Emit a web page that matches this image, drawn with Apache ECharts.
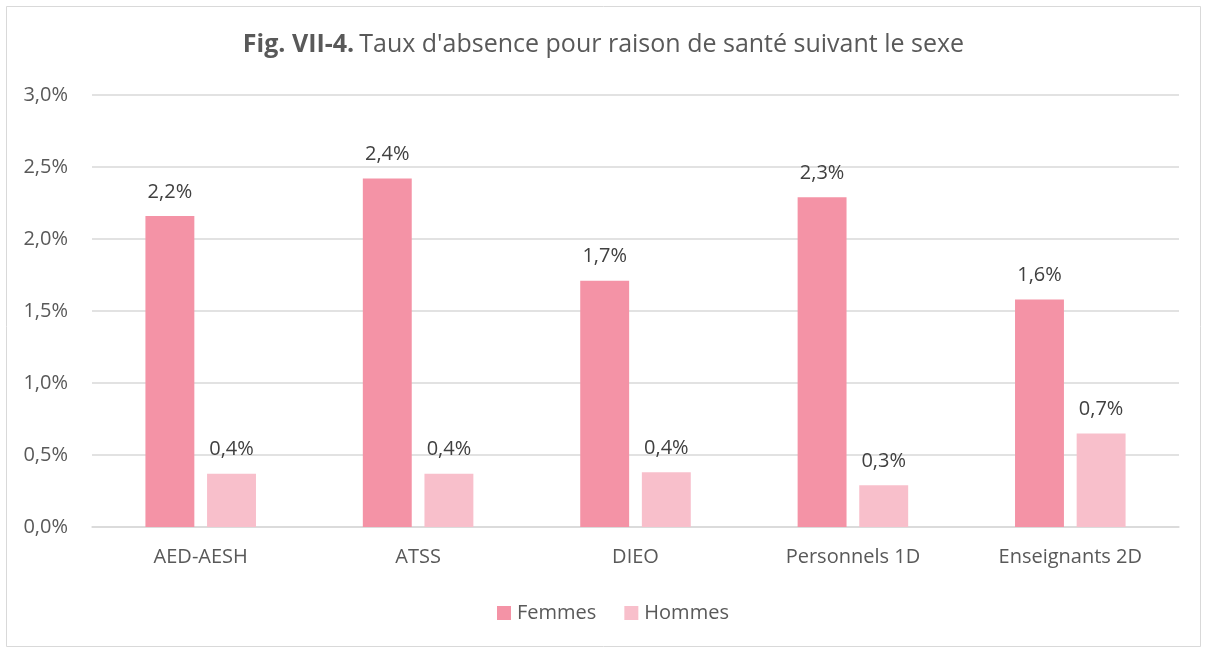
<!DOCTYPE html>
<html>
<head>
<meta charset="utf-8">
<script src="https://cdn.jsdelivr.net/npm/echarts@6/dist/echarts.min.js"></script>
<style>
  html, body { margin: 0; padding: 0; background: #fff; }
  #chart { width: 1207px; height: 653px; }
</style>
</head>
<body>
<div id="chart"></div>
<script>
// Taux d'absence pour raison de santé, par catégorie de personnel et par sexe (%)
const categories = ['AED-AESH', 'ATSS', 'DIEO', 'Personnels 1D', 'Enseignants 2D'];
const femmes = [2.16, 2.42, 1.71, 2.29, 1.58];
const hommes = [0.37, 0.37, 0.38, 0.29, 0.65];
const yTicks = { min: 0, max: 3, interval: 0.5 };

const FONT = '"Open Sans", "Noto Sans", sans-serif';
const fmtPct = v => v.toFixed(1).replace('.', ',') + '%';

const chart = echarts.init(document.getElementById('chart'), null, { renderer: 'canvas' });

const labelStyle = {
  show: true,
  position: 'top',
  distance: 14,
  color: '#404040',
  fontFamily: FONT,
  fontSize: 20,
  formatter: p => fmtPct(p.value)
};

chart.setOption({
  backgroundColor: '#ffffff',
  animation: false,
  graphic: [{
    type: 'rect',
    shape: { x: 6.5, y: 6.5, width: 1194, height: 640 },
    style: { fill: 'none', stroke: '#d9d9d9', lineWidth: 1 },
    silent: true
  }],
  title: {
    text: '{b|Fig. VII-4.} {n|Taux d\'absence pour raison de santé suivant le sexe}',
    left: 'center',
    top: 27,
    textStyle: {
      rich: {
        b: { fontFamily: FONT, fontSize: 25, fontWeight: 'bold', color: '#595959' },
        n: { fontFamily: FONT, fontSize: 25, fontWeight: 'normal', color: '#595959' }
      }
    }
  },
  legend: {
    top: 598,
    left: 492,
    itemWidth: 14,
    itemHeight: 14,
    itemGap: 28,
    icon: 'rect',
    textStyle: { fontFamily: FONT, fontSize: 20, color: '#595959', padding: [0, 0, 0, 1] },
    data: ['Femmes', 'Hommes']
  },
  grid: { left: 92, right: 28, top: 95, bottom: 126, containLabel: false },
  xAxis: {
    type: 'category',
    data: categories,
    axisLine: { lineStyle: { color: '#d9d9d9', width: 1.5 } },
    axisTick: { show: false },
    axisLabel: { color: '#595959', fontFamily: FONT, fontSize: 20, margin: 20 }
  },
  yAxis: {
    type: 'value',
    min: yTicks.min,
    max: yTicks.max,
    interval: yTicks.interval,
    axisLine: { show: false },
    axisTick: { show: false },
    splitLine: { lineStyle: { color: '#d9d9d9', width: 1.5 } },
    axisLabel: {
      color: '#595959', fontFamily: FONT, fontSize: 20, margin: 24,
      formatter: v => fmtPct(v)
    }
  },
  series: [
    {
      name: 'Femmes',
      type: 'bar',
      data: femmes,
      barWidth: '22.5%',
      barGap: '26%',
      itemStyle: { color: '#F493A6' },
      label: labelStyle
    },
    {
      name: 'Hommes',
      type: 'bar',
      data: hommes,
      barWidth: '22.5%',
      itemStyle: { color: '#F8BFCB' },
      label: labelStyle
    }
  ]
});
</script>
</body>
</html>
